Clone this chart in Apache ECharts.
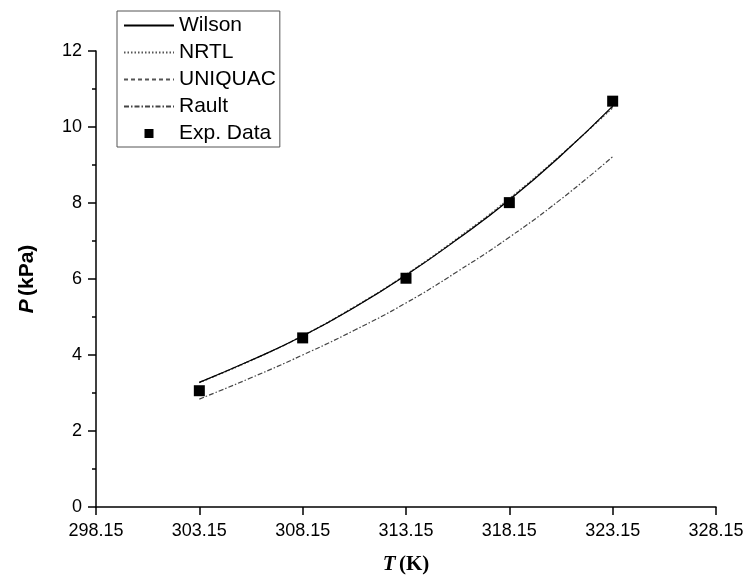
<!DOCTYPE html>
<html>
<head>
<meta charset="utf-8">
<script src="https://cdn.jsdelivr.net/npm/echarts@6/dist/echarts.min.js"></script>
<style>html,body{margin:0;padding:0;background:#fff;}#c{width:743px;height:576px;}</style>
</head>
<body>
<div id="c"></div>
<script>
// Temperatures (K) for model curves
const curveT = [303.15, 305.65, 308.15, 310.65, 313.15, 315.65, 318.15, 320.65, 323.15];
const wilsonP = [3.28, 3.86, 4.50, 5.25, 6.10, 7.05, 8.08, 9.25, 10.55];
const nrtlP = [3.27, 3.85, 4.51, 5.27, 6.12, 7.08, 8.12, 9.27, 10.50];
const uniquacP = [3.28, 3.86, 4.50, 5.26, 6.11, 7.06, 8.10, 9.26, 10.53];
const raultP = [2.84, 3.40, 4.00, 4.65, 5.37, 6.20, 7.10, 8.10, 9.22];
// Experimental data
const expT = [303.15, 308.15, 313.15, 318.15, 323.15];
const expP = [3.06, 4.45, 6.02, 8.01, 10.68];
// Axis ticks
const xTicks = [298.15, 303.15, 308.15, 313.15, 318.15, 323.15, 328.15];

const zip = (a, b) => a.map((v, i) => [v, b[i]]);
const font = 'Liberation Sans, Arial, sans-serif';
const noDot = {opacity: 0};

const chart = echarts.init(document.getElementById('c'), null, {renderer: 'canvas'});
chart.setOption({
  animation: false,
  backgroundColor: '#fff',
  grid: {left: 96, right: 27, top: 51, bottom: 69, containLabel: false, outerBoundsMode: 'none'},
  legend: {
    orient: 'vertical', align: 'left',
    left: 117, top: 11,
    padding: [4, 4, 3, 6],
    itemWidth: 50, itemHeight: 9, itemGap: 6,
    borderColor: '#555', borderWidth: 1,
    textStyle: {fontFamily: font, fontSize: 21, color: '#000', lineHeight: 21},
    data: [
      {name: 'Wilson', itemStyle: noDot},
      {name: 'NRTL', itemStyle: noDot},
      {name: 'UNIQUAC', itemStyle: noDot},
      {name: 'Rault', itemStyle: noDot},
      {name: 'Exp. Data', icon: 'path://M0,0 L10,0 L10,10 L0,10 Z', itemStyle: {color: '#000', opacity: 1}}
    ]
  },
  xAxis: {
    type: 'value', min: 298.15, max: 328.15,
    splitLine: {show: false},
    axisLine: {lineStyle: {color: '#000', width: 1.5}},
    axisTick: {length: 8, lineStyle: {color: '#000', width: 1.5}, customValues: xTicks},
    axisLabel: {customValues: xTicks, formatter: v => v.toFixed(2), fontFamily: font, fontSize: 18, color: '#000', margin: 15},
    name: '{i|T} {b|(K)}', nameLocation: 'middle', nameGap: 47,
    nameTextStyle: {
      rich: {
        i: {fontFamily: 'Liberation Serif, Times New Roman, serif', fontStyle: 'italic', fontWeight: 'bold', fontSize: 21, color: '#000'},
        b: {fontFamily: 'Liberation Serif, Times New Roman, serif', fontWeight: 'bold', fontSize: 21, color: '#000'}
      }
    }
  },
  yAxis: {
    type: 'value', min: 0, max: 12, interval: 2,
    splitLine: {show: false},
    axisLine: {show: true, lineStyle: {color: '#000', width: 1.5}},
    axisTick: {show: true, length: 8, lineStyle: {color: '#000', width: 1.5}},
    minorTick: {show: true, splitNumber: 2, length: 4, lineStyle: {color: '#000', width: 1.5}},
    minorSplitLine: {show: false},
    axisLabel: {fontFamily: font, fontSize: 18, color: '#000', margin: 14},
    name: '{i|P} {b|(kPa)}', nameLocation: 'middle', nameGap: 58,
    nameTextStyle: {
      rich: {
        i: {fontFamily: font, fontStyle: 'italic', fontWeight: 'bold', fontSize: 21, color: '#000'},
        b: {fontFamily: font, fontWeight: 'bold', fontSize: 21, color: '#000'}
      }
    }
  },
  series: [
    {name: 'Wilson', type: 'line', data: zip(curveT, wilsonP), smooth: true, symbol: 'none',
     itemStyle: {color: '#000'}, lineStyle: {color: '#000', width: 1.2, type: 'solid'}, z: 5},
    {name: 'NRTL', type: 'line', data: zip(curveT, nrtlP), smooth: true, symbol: 'none',
     itemStyle: {color: '#555'}, lineStyle: {color: '#555', width: 1.2, type: [1.5, 2]}, z: 4},
    {name: 'UNIQUAC', type: 'line', data: zip(curveT, uniquacP), smooth: true, symbol: 'none',
     itemStyle: {color: '#555'}, lineStyle: {color: '#555', width: 1.2, type: [4, 3]}, z: 4},
    {name: 'Rault', type: 'line', data: zip(curveT, raultP), smooth: true, symbol: 'none',
     itemStyle: {color: '#444'}, lineStyle: {color: '#444', width: 1.2, type: [5, 2, 1.5, 2]}, z: 4},
    {name: 'Exp. Data', type: 'scatter', data: zip(expT, expP), symbol: 'rect', symbolSize: 11,
     itemStyle: {color: '#000', opacity: 1}, z: 10}
  ]
});
</script>
</body>
</html>
